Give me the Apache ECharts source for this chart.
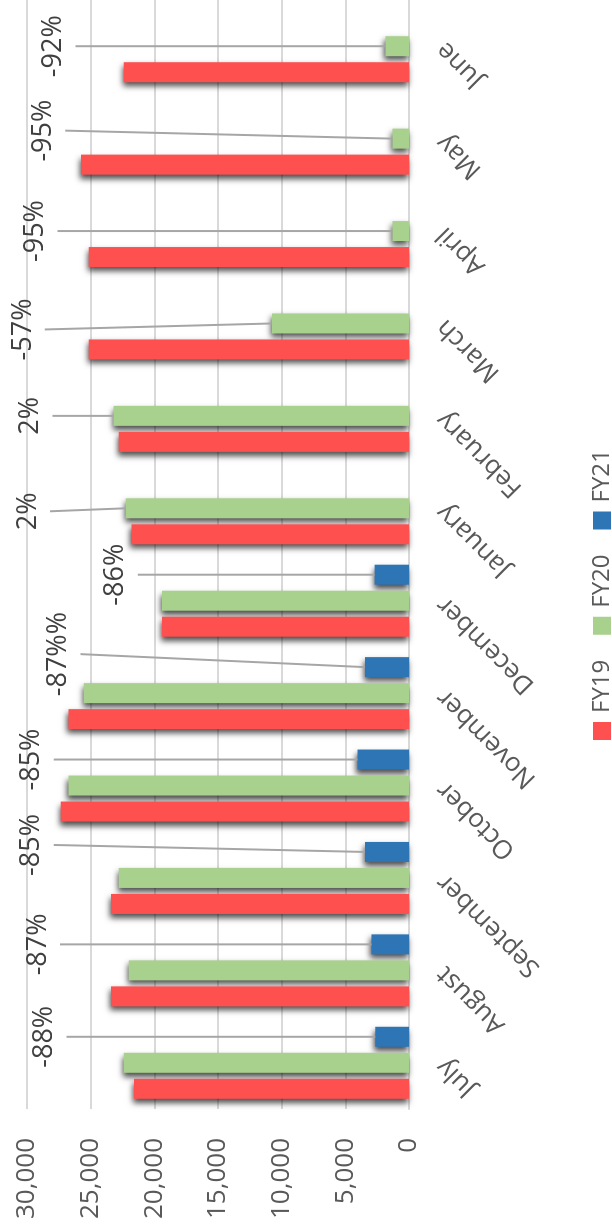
<!DOCTYPE html>
<html>
<head>
<meta charset="utf-8">
<title>Monthly totals FY19 / FY20 / FY21</title>
<script src="https://cdn.jsdelivr.net/npm/echarts@6/dist/echarts.min.js"></script>
<style>
  html, body { margin: 0; padding: 0; width: 612px; height: 1227px; overflow: hidden; background: #fff; }
  /* the chart is laid out as a wide column chart and turned a quarter turn */
  #chart {
    position: absolute; left: 0; top: 0;
    width: 1227px; height: 612px;
    transform-origin: 0 0;
    transform: translate(0, 1227px) rotate(-90deg);
  }
</style>
</head>
<body>
<div id="chart"></div>
<script>
// ---- data ----
const months = ['July', 'August', 'September', 'October', 'November', 'December',
                'January', 'February', 'March', 'April', 'May', 'June'];
const fy19 = [21600, 23400, 23400, 27350, 26750, 19400, 21800, 22800, 25150, 25150, 25750, 22400];
const fy20 = [22400, 22000, 22800, 26750, 25550, 19400, 22250, 23200, 10750, 1300, 1300, 1850];
const fy21 = [2650, 2950, 3450, 4050, 3450, 2700, null, null, null, null, null, null];
const seriesNames = ['FY19', 'FY20', 'FY21'];

// year-on-year change callouts and the series each one points at (0 FY19, 1 FY20, 2 FY21)
const changeLabels = ['-88%', '-87%', '-85%', '-85%', '-87%%', '-86%', '2%', '2%', '-57%', '-95%', '-95%', '-92%'];
const changeTarget = [2, 2, 2, 2, 2, 2, 1, 1, 1, 1, 1, 1];

// value-axis scale
const valueMin = 0, valueMax = 30000, valueStep = 5000;

// ---- callout layout (value where each leader line starts, sideways nudge in px) ----
const calloutAt = [26900, 27400, 27900, 27900, 25800, 21300, 28200, 28000, 28600, 27600, 27000, 26200];
const calloutShift = [0, 0, 7, 0, 13, 0, -3, 0, -6, 0, 8, 0];

// ---- style ----
const colors = ['#FF5050', '#A9D18E', '#2E75B6'];
const FONT = '"Open Sans", "Noto Sans", sans-serif';
const BAR_W = 20, BAR_GAP = 6;
const values = [fy19, fy20, fy21];

const barShadow = {
  shadowBlur: 6,
  shadowColor: 'rgba(0,0,0,0.7)',
  shadowOffsetX: -4,
  shadowOffsetY: -1
};

const chart = echarts.init(document.getElementById('chart'), null, { renderer: 'canvas' });

// earlier years sit on top so each shadow only shows in the gaps
const barSeries = seriesNames.map((name, s) => ({
  name: name,
  type: 'bar',
  data: values[s],
  barWidth: BAR_W,
  barGap: (BAR_GAP / BAR_W * 100) + '%',
  itemStyle: Object.assign({ color: colors[s] }, barShadow),
  z: 4 - s
}));

const calloutSeries = {
  type: 'custom',
  name: 'change',
  data: months.map((m, i) => [i, calloutAt[i]]),
  encode: { x: 0, y: 1 },
  clip: false,
  z: 6,
  renderItem: function (params, api) {
    const i = api.value(0);
    const s = changeTarget[i];
    const v = values[s][i];
    const off = (s - 1) * (BAR_W + BAR_GAP);
    const end = api.coord([i, v]);
    const start = api.coord([i, calloutAt[i]]);
    const sx = start[0] + off + calloutShift[i];
    const sy = start[1];
    const ex = end[0] + off;
    const ey = end[1];
    return {
      type: 'group',
      children: [
        {
          type: 'line',
          shape: { x1: sx, y1: sy, x2: ex, y2: ey },
          style: { stroke: '#A6A6A6', lineWidth: 2 }
        },
        {
          type: 'text',
          x: sx,
          y: sy - 22,
          style: {
            text: changeLabels[i],
            align: 'center',
            verticalAlign: 'middle',
            fill: '#404040',
            fontSize: 27,
            fontFamily: FONT
          }
        }
      ]
    };
  }
};

chart.setOption({
  animation: false,
  backgroundColor: '#ffffff',
  grid: { left: 118, right: 0, top: 27, bottom: 203, containLabel: false },
  legend: {
    data: seriesNames,
    orient: 'horizontal',
    left: 482,
    top: 585,
    icon: 'rect',
    itemWidth: 18,
    itemHeight: 18,
    itemGap: 25,
    itemStyle: { shadowBlur: 0, shadowOffsetX: 0, shadowOffsetY: 0 },
    textStyle: { color: '#595959', fontSize: 24, fontFamily: FONT, padding: [0, 0, 0, 4] }
  },
  xAxis: {
    type: 'category',
    data: months,
    axisTick: { show: false },
    axisLine: { show: true, lineStyle: { color: '#D9D9D9', width: 2 } },
    axisLabel: {
      interval: 0,
      rotate: 45,
      margin: 32,
      color: '#595959',
      fontSize: 26,
      fontFamily: FONT
    }
  },
  yAxis: {
    type: 'value',
    min: valueMin,
    max: valueMax,
    interval: valueStep,
    axisLine: { show: false },
    axisTick: { show: false },
    splitLine: { lineStyle: { color: '#D9D9D9', width: 2 } },
    axisLabel: {
      margin: 29,
      color: '#595959',
      fontSize: 26,
      fontFamily: FONT,
      formatter: v => v.toLocaleString('en-US')
    }
  },
  series: barSeries.concat([calloutSeries])
});
</script>
</body>
</html>
